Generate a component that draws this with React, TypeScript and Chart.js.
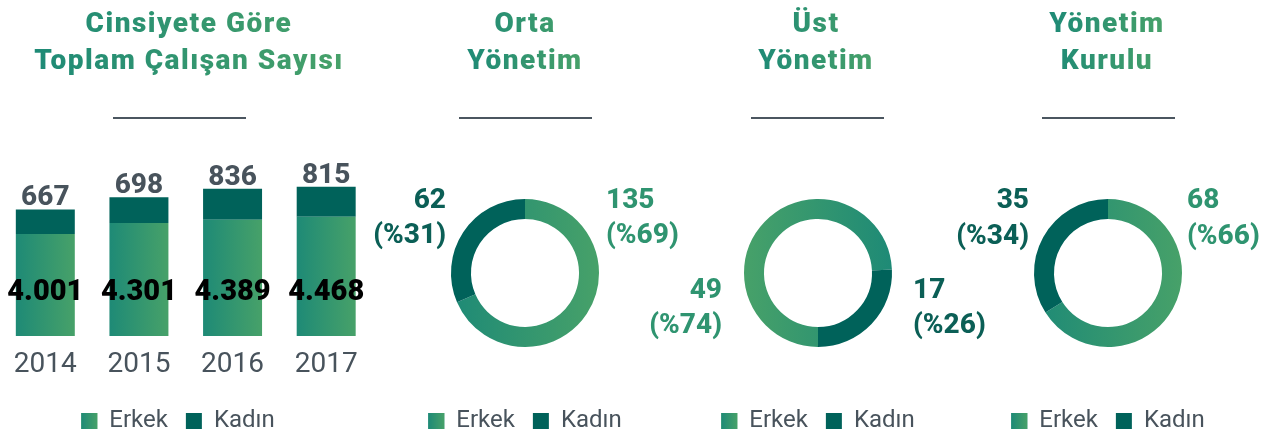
import React, { useEffect, useRef } from "react";
import { Chart, registerables } from "chart.js";
Chart.register(...registerables);

// ---------- data ----------
const years = ["2014", "2015", "2016", "2017"];
const erkekTotals = [4001, 4301, 4389, 4468];
const kadinTotals = [667, 698, 836, 815];
const seriesLabels = ["Erkek", "Kadın"];

const ortaValues = [135, 62]; // Erkek, Kadın
const ortaPercents = [69, 31];
const ustValues = [49, 17];
const ustPercents = [74, 26];
const kurulValues = [68, 35];
const kurulPercents = [66, 34];

const titles = [
  ["Cinsiyete Göre", "Toplam Çalışan Sayısı"],
  ["Orta", "Yönetim"],
  ["Üst", "Yönetim"],
  ["Yönetim", "Kurulu"],
];

// ---------- style ----------
const FONT = "Roboto";
const TEAL = "#1e8a76";
const GREEN = "#47a169";
const DARK = "#00625a";
const GRAY = "#48535c";
const ERKEK_TXT = "#2f9470";
const KADIN_TXT = "#0b5f56";

const fmt = (v: number) => String(v).replace(/\B(?=(\d{3})+(?!\d))/g, ".");

const legendOpts = {
  position: "bottom" as const,
  labels: {
    boxWidth: 16,
    boxHeight: 16,
    padding: 18,
    color: GRAY,
    font: { family: FONT, size: 24 },
  },
};

const legendGradPlugin = {
  id: "legendGrad",
  afterDraw(chart: any) {
    const lg = chart.legend;
    if (!lg || !lg.legendHitBoxes || !lg.legendHitBoxes.length) return;
    const hb = lg.legendHitBoxes[0];
    const ctx = chart.ctx;
    const x = hb.left;
    const y = hb.top + Math.max((24 - 16) / 2, 0);
    const g = ctx.createLinearGradient(x, 0, x + 16, 0);
    g.addColorStop(0, TEAL);
    g.addColorStop(1, GREEN);
    ctx.save();
    ctx.fillStyle = g;
    ctx.fillRect(x, y, 16, 16);
    ctx.restore();
  },
};

function BarChart() {
  const ref = useRef<HTMLCanvasElement>(null);
  useEffect(() => {
    const barLabels = {
      id: "barLabels",
      afterDatasetsDraw(chart: any) {
        const ctx = chart.ctx;
        const mE = chart.getDatasetMeta(0);
        const mK = chart.getDatasetMeta(1);
        const bottom = chart.scales.y.bottom;
        ctx.save();
        ctx.textAlign = "center";
        ctx.textBaseline = "alphabetic";
        mE.data.forEach((el: any, i: number) => {
          ctx.font = `900 29px ${FONT}`;
          ctx.fillStyle = "#000";
          ctx.fillText(fmt(erkekTotals[i]), el.x, bottom - 36);
        });
        mK.data.forEach((el: any, i: number) => {
          ctx.font = `800 28px ${FONT}`;
          ctx.fillStyle = GRAY;
          ctx.fillText(String(kadinTotals[i]), el.x, el.y - 4);
        });
        ctx.restore();
      },
    };
    const barGrad = (c: any) => {
      const chart = c.chart;
      const xs = chart.scales && chart.scales.x;
      if (!chart.chartArea || !xs || c.dataIndex === undefined) return TEAL;
      const cx = xs.getPixelForValue(c.dataIndex);
      const w = (chart.chartArea.width / years.length) * 0.63;
      const g = chart.ctx.createLinearGradient(cx - w / 2, 0, cx + w / 2, 0);
      g.addColorStop(0, TEAL);
      g.addColorStop(1, GREEN);
      return g;
    };
    const chart = new Chart(ref.current!, {
      type: "bar",
      data: {
        labels: years,
        datasets: [
          { label: seriesLabels[0], data: erkekTotals, backgroundColor: barGrad, borderWidth: 0 },
          { label: seriesLabels[1], data: kadinTotals, backgroundColor: DARK, borderWidth: 0 },
        ],
      },
      options: {
        animation: false,
        responsive: false,
        events: [],
        layout: { padding: 0 },
        datasets: { bar: { categoryPercentage: 1, barPercentage: 0.63 } },
        scales: {
          x: {
            stacked: true,
            grid: { display: false, drawTicks: false },
            border: { display: false },
            ticks: { color: GRAY, font: { family: FONT, size: 28 }, padding: 12 },
            afterFit: (s: any) => {
              s.height = 55;
            },
          },
          y: {
            stacked: true,
            min: 1250,
            max: 6272,
            grid: { display: false, drawTicks: false },
            border: { display: false },
            ticks: { display: false },
            afterFit: (s: any) => {
              s.width = 15.5;
            },
          },
        },
        plugins: { legend: legendOpts as any, tooltip: { enabled: false } },
      },
      plugins: [barLabels, legendGradPlugin],
    });
    return () => chart.destroy();
  }, []);
  return (
    <canvas
      ref={ref}
      width={390}
      height={293}
      style={{ position: "absolute", left: -17, top: 150, width: 390, height: 293 }}
    />
  );
}

type LabelPos = { align: "left" | "right"; dx: number; dy1: number; dy2: number };

function Donut(props: {
  cx: number;
  values: number[];
  percents: number[];
  rotation: number;
  pos: LabelPos[];
}) {
  const ref = useRef<HTMLCanvasElement>(null);
  useEffect(() => {
    const { values, percents, rotation, pos } = props;
    const donutLabels = {
      id: "donutLabels",
      afterDatasetsDraw(chart: any) {
        const ctx = chart.ctx;
        const meta = chart.getDatasetMeta(0);
        const el = meta.data[0];
        if (!el) return;
        ctx.save();
        ctx.font = `800 28px ${FONT}`;
        ctx.textBaseline = "alphabetic";
        values.forEach((v, i) => {
          const p = pos[i];
          ctx.fillStyle = i === 0 ? ERKEK_TXT : KADIN_TXT;
          ctx.textAlign = p.align;
          ctx.fillText(String(v), el.x + p.dx, el.y + p.dy1);
          ctx.fillText(`(%${percents[i]})`, el.x + p.dx, el.y + p.dy2);
        });
        ctx.restore();
      },
    };
    const bg = (c: any) => {
      if (c.dataIndex !== 0) return DARK;
      const chart = c.chart;
      const a = chart.chartArea;
      if (!a) return TEAL;
      const cx = (a.left + a.right) / 2;
      const cy = (a.top + a.bottom) / 2;
      const phi = ((rotation + 90) * Math.PI) / 180;
      const dx = Math.sin(phi) * 74;
      const dy = -Math.cos(phi) * 74;
      const g = chart.ctx.createLinearGradient(cx - dx, cy - dy, cx + dx, cy + dy);
      g.addColorStop(0, TEAL);
      g.addColorStop(1, GREEN);
      return g;
    };
    const chart = new Chart(ref.current!, {
      type: "doughnut",
      data: {
        labels: seriesLabels,
        datasets: [{ data: values, backgroundColor: bg, borderWidth: 0 }],
      },
      options: {
        animation: false,
        responsive: false,
        events: [],
        cutout: "73%",
        radius: 74,
        rotation,
        layout: { padding: { top: 3 } },
        plugins: { legend: legendOpts as any, tooltip: { enabled: false } },
      } as any,
      plugins: [donutLabels, legendGradPlugin],
    });
    return () => chart.destroy();
  }, []);
  return (
    <canvas
      ref={ref}
      width={360}
      height={291}
      style={{ position: "absolute", left: props.cx - 180, top: 152, width: 360, height: 291 }}
    />
  );
}

function Title(props: { lines: string[]; cx: number; lineX: number }) {
  return (
    <>
      <div
        style={{
          position: "absolute",
          left: props.cx - 200,
          width: 400,
          top: 4,
          textAlign: "center",
        }}
      >
        <div
          style={{
            display: "inline-block",
            fontFamily: FONT,
            fontWeight: 900,
            fontSize: 28,
            lineHeight: "37px",
            letterSpacing: 1.5,
            background: `linear-gradient(90deg, ${TEAL}, ${GREEN})`,
            WebkitBackgroundClip: "text",
            backgroundClip: "text",
            color: "transparent",
          }}
        >
          {props.lines.map((l, i) => (
            <div key={i}>{l}</div>
          ))}
        </div>
      </div>
      <div
        style={{
          position: "absolute",
          left: props.lineX,
          top: 117,
          width: 133,
          height: 2,
          background: "#4b5660",
        }}
      />
    </>
  );
}

export default function App() {
  return (
    <div
      style={{
        position: "fixed",
        left: 0,
        top: 0,
        width: 1284,
        height: 439,
        overflow: "hidden",
        background: "#fff",
      }}
    >
      <Title lines={titles[0]} cx={189} lineX={113} />
      <Title lines={titles[1]} cx={525} lineX={459} />
      <Title lines={titles[2]} cx={816} lineX={751} />
      <Title lines={titles[3]} cx={1107} lineX={1042} />
      <BarChart />
      <Donut
        cx={525}
        values={ortaValues}
        percents={ortaPercents}
        rotation={0}
        pos={[
          { align: "left", dx: 81, dy1: -65, dy2: -30 },
          { align: "right", dx: -79, dy1: -65, dy2: -30 },
        ]}
      />
      <Donut
        cx={818}
        values={ustValues}
        percents={ustPercents}
        rotation={180}
        pos={[
          { align: "right", dx: -96, dy1: 25, dy2: 60 },
          { align: "left", dx: 95, dy1: 25, dy2: 60 },
        ]}
      />
      <Donut
        cx={1108}
        values={kurulValues}
        percents={kurulPercents}
        rotation={0}
        pos={[
          { align: "left", dx: 79, dy1: -65, dy2: -29 },
          { align: "right", dx: -79, dy1: -65, dy2: -29 },
        ]}
      />
    </div>
  );
}
